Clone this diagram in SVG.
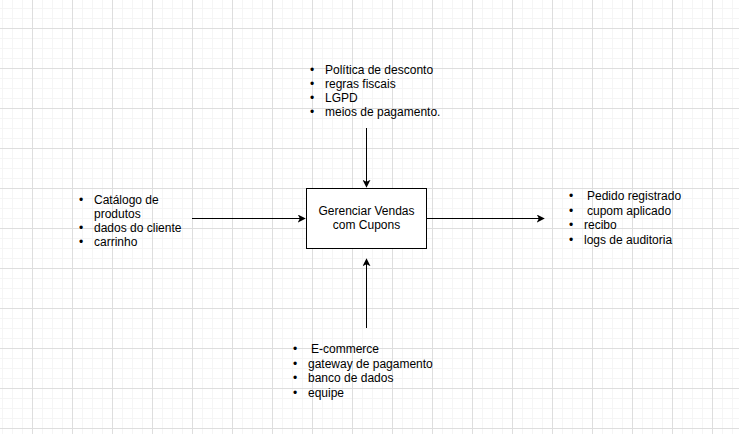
<svg xmlns="http://www.w3.org/2000/svg" width="739" height="434" viewBox="0 0 739 434">
<style>
text{font-family:"Liberation Sans",Arial,sans-serif;font-size:12px;fill:#000}
.edge{stroke:#000;stroke-width:1;fill:none}
.node{fill:#fff;stroke:#000;stroke-width:1}
</style>
<defs>
<pattern id="minor" x="2" y="8" width="10" height="10" patternUnits="userSpaceOnUse">
<path d="M0.5 0V10M0 0.5H10" stroke="#f5f5f5" stroke-width="1" fill="none"/>
</pattern>
<pattern id="major" x="32" y="28" width="40" height="40" patternUnits="userSpaceOnUse">
<path d="M0.5 0V40M0 0.5H40" stroke="#dedede" stroke-width="1" fill="none"/>
</pattern>
<marker id="arr" viewBox="0 0 10 10" refX="9" refY="5" markerWidth="8" markerHeight="8" markerUnits="userSpaceOnUse" orient="auto">
<path d="M0 0L10 5L0 10L2.5 5Z" fill="#000"/>
</marker>
</defs>
<rect width="739" height="434" fill="#fff"/>
<rect width="739" height="434" fill="url(#minor)"/>
<rect width="739" height="434" fill="url(#major)"/>

<g id="connectors">
<path class="edge" d="M192 218.5H305" marker-end="url(#arr)"/>
<path class="edge" d="M427 218.5H544" marker-end="url(#arr)"/>
<path class="edge" d="M366.5 128V187" marker-end="url(#arr)"/>
<path class="edge" d="M366.5 328V259" marker-end="url(#arr)"/>
</g>

<g id="process">
<rect class="node" x="306.5" y="188.5" width="120" height="60"/>
<text x="366.5" y="215" text-anchor="middle">Gerenciar Vendas</text>
<text x="366.5" y="229" text-anchor="middle">com Cupons</text>
</g>

<g id="controls">
<text x="310" y="74">•</text><text x="325" y="74">Política de desconto</text>
<text x="310" y="88">•</text><text x="325" y="88">regras fiscais</text>
<text x="310" y="102">•</text><text x="325" y="102">LGPD</text>
<text x="310" y="116">•</text><text x="325" y="116">meios de pagamento.</text>
</g>

<g id="inputs">
<text x="79" y="204">•</text><text x="94" y="204">Catálogo de</text>
<text x="94" y="218">produtos</text>
<text x="79" y="232">•</text><text x="94" y="232">dados do cliente</text>
<text x="79" y="246">•</text><text x="94" y="246">carrinho</text>
</g>

<g id="outputs">
<text x="569" y="200">•</text><text x="587" y="200">Pedido registrado</text>
<text x="569" y="215">•</text><text x="587" y="215">cupom aplicado</text>
<text x="569" y="229">•</text><text x="584" y="229">recibo</text>
<text x="569" y="244">•</text><text x="584" y="244">logs de auditoria</text>
</g>

<g id="mechanisms">
<text x="293" y="353">•</text><text x="311" y="353">E-commerce</text>
<text x="293" y="368">•</text><text x="308" y="368">gateway de pagamento</text>
<text x="293" y="382">•</text><text x="308" y="382">banco de dados</text>
<text x="293" y="397">•</text><text x="308" y="397">equipe</text>
</g>
</svg>
